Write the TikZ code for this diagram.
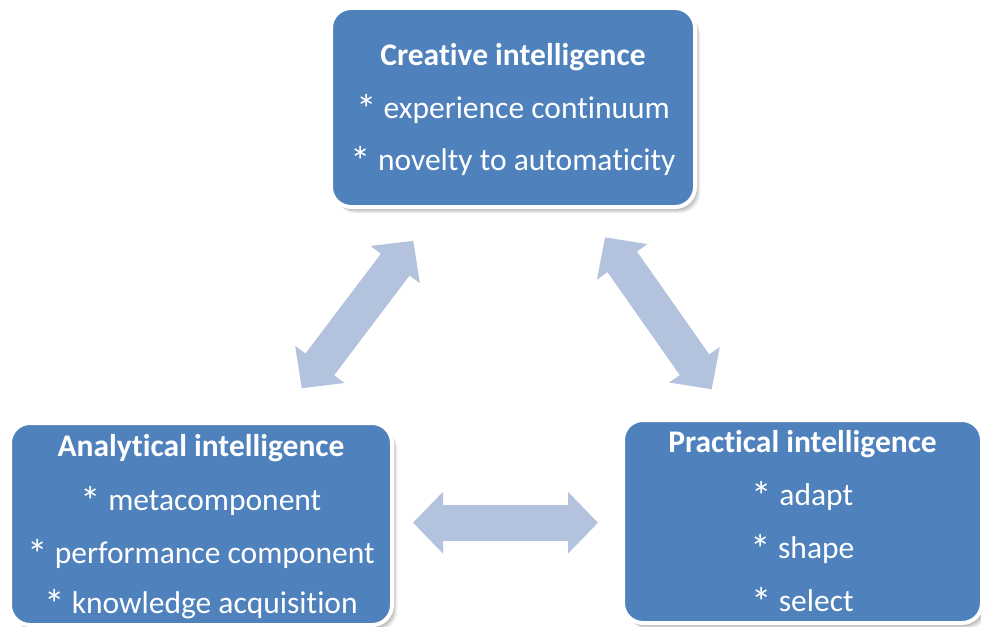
\documentclass[tikz,border=0pt]{standalone}
\usepackage{fontspec}
\setmainfont{Carlito}[Ligatures={NoCommon,NoContextual}]
\usetikzlibrary{arrows.meta,shadows}
\definecolor{boxblue}{HTML}{4F81BD}
\definecolor{arrowblue}{HTML}{B3C3DE}
\newcommand{\astr}{\raisebox{-0.16em}{\scalebox{1.3}{*}}}
\begin{document}
\begin{tikzpicture}[x=1pt,y=-1pt,
  box/.style={draw=white, line width=4pt, fill=boxblue, rounded corners=20pt,
    inner sep=0pt,
    general shadow={fill=black, opacity=0.10, shadow xshift=2pt, shadow yshift=-3pt},
    general shadow={fill=black, opacity=0.10, shadow xshift=3.5pt, shadow yshift=-4.5pt},
    general shadow={fill=black, opacity=0.08, shadow xshift=5pt, shadow yshift=-6pt}},
  txt/.style={text=white, anchor=base, inner sep=0pt, font=\fontsize{31.5}{38}\selectfont},
  ttl/.style={txt, font=\fontsize{31.5}{38}\selectfont\bfseries},
  bigarrow/.style={draw=arrowblue, line width=36pt,
    {Triangle[width=60pt,length=30pt]}-{Triangle[width=60pt,length=30pt]}}
]
\useasboundingbox (0,0) rectangle (981,626);

% boxes
\node[box, minimum width=364pt, minimum height=199pt] (creative) at (513,107.5) {};
\node[box, minimum width=382pt, minimum height=202pt] (analytical) at (201,524) {};
\node[box, minimum width=359pt, minimum height=203pt] (practical) at (802.5,521.5) {};

% texts
\node[ttl] (c0) at (513,65) {Creative intelligence};
\node[txt] (c1) at (513,118) {\astr{} experience continuum};
\node[txt] (c2) at (513,170) {\astr{} novelty to automaticity};

\node[ttl] (a0) at (201,456.7) {Analytical intelligence};
\node[txt] (a1t) at (201,510) {\astr{} metacomponent};
\node[txt] (a2t) at (201,563) {\astr{} performance component};
\node[txt] (a3t) at (201,613) {\astr{} knowledge acquisition};

\node[ttl] (p0) at (802.5,452.7) {Practical intelligence};
\node[txt] (p1) at (802.5,505) {\astr{} adapt};
\node[txt] (p2) at (802.5,558) {\astr{} shape};
\node[txt] (p3) at (802.5,611.7) {\astr{} select};

% arrows
\coordinate (ca) at (301.7,388.3);
\coordinate (ac) at (413.3,240.7);
\coordinate (cp) at (605,237.3);
\coordinate (pc) at (711.7,389.3);
\coordinate (ap) at (413,522.7);
\coordinate (pa) at (598,522.7);
\draw[bigarrow] (ca) -- (ac);
\draw[bigarrow] (cp) -- (pc);
\draw[bigarrow] (ap) -- (pa);
\end{tikzpicture}
\end{document}
